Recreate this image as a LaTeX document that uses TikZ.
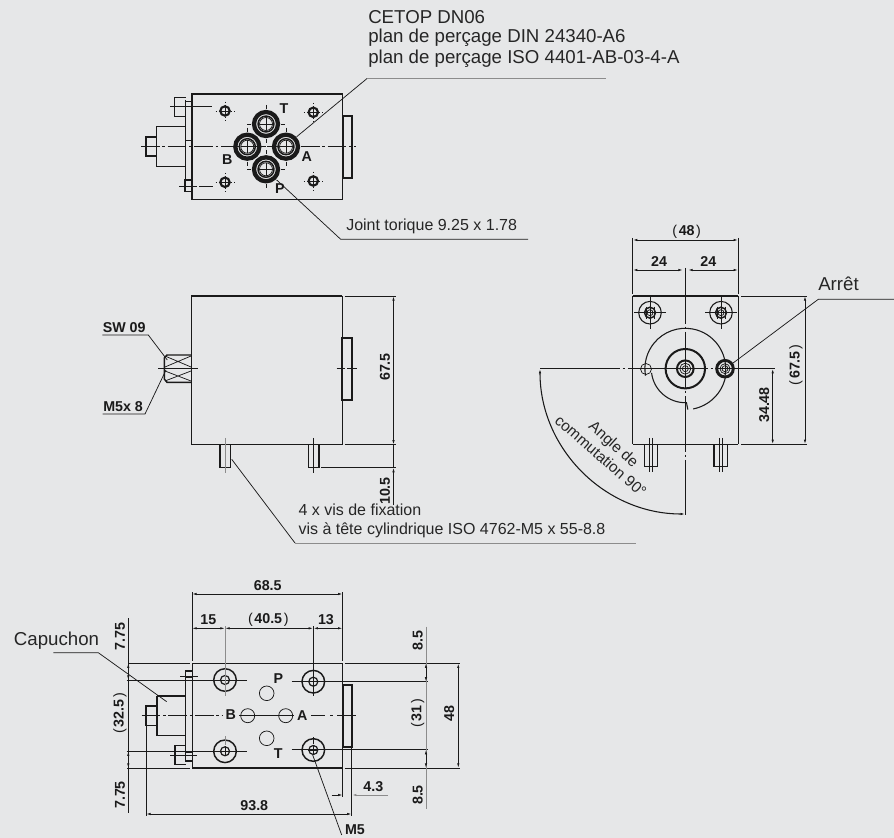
\documentclass[tikz,border=0pt]{standalone}
\usepackage{fontspec}
\setmainfont{Liberation Sans}
\usetikzlibrary{arrows.meta}
\definecolor{bgc}{HTML}{E6E7E8}
\definecolor{ink}{HTML}{1A1A1A}
\tikzset{
  thick line/.style={line width=1.1pt,draw=ink},
  plate line/.style={line width=1.35pt,draw=ink},
  thin line/.style={line width=0.55pt,draw=ink},
  graphic line/.style={line width=0.7pt,draw=black!45},
  center line/.style={line width=0.6pt,draw=ink,dash pattern=on 14pt off 2pt on 2pt off 2pt},
  dim/.style={line width=0.6pt,draw=ink,{Latex[length=3.5pt,width=1.8pt]}-{Latex[length=3.5pt,width=1.8pt]}},
  lead/.style={line width=0.55pt,draw=ink},
  note/.style={inner sep=0pt,anchor=west,font=\fontsize{12pt}{13pt}\selectfont,text=black!85},
  bignote/.style={note,font=\fontsize{14pt}{15pt}\selectfont},
  dimtxt/.style={inner sep=0pt,font=\bfseries\fontsize{10.7pt}{11pt}\selectfont,text=ink},
  port/.style={inner sep=0pt,font=\bfseries\fontsize{10.7pt}{11pt}\selectfont,text=ink}
}
\newcommand{\dimparen}[1]{{\mdseries(}\kern1.2pt #1\kern1.2pt{\mdseries)}}
\newcommand{\xhole}[3]{%
  \draw[line width=1.6pt,draw=ink] (#1,#2) circle (#3);
  \draw[thin line] (#1-#3,#2) -- (#1+#3,#2) (#1,#2-#3) -- (#1,#2+#3);
  \draw[line width=0.3pt,draw=ink,dotted] (#1-2*#3,#2) -- (#1+2*#3,#2) (#1,#2-2*#3) -- (#1,#2+2*#3);
}
\newcommand{\ringport}[2]{%
  \draw[line width=3.2pt,draw=ink] (#1,#2) circle (12);
  \draw[thick line] (#1,#2) circle (8);
  \draw[thin line] (#1,#2) circle (6.5);
  \draw[thin line] (#1-6.5,#2) -- (#1+6.5,#2) (#1,#2-6.5) -- (#1,#2+6.5);
  \draw[thin line] (#1-19,#2) -- (#1-15,#2) (#1+15,#2) -- (#1+19,#2) (#1,#2-19) -- (#1,#2-15) (#1,#2+15) -- (#1,#2+19);
}
\newcommand{\mhole}[2]{%
  \draw[thick line] (#1,#2) circle (11.3);
  \draw[line width=0.9pt,draw=ink] (#1,#2) circle (4.5);
  \draw[thin line] (#1-5,#2) -- (#1+5,#2) (#1,#2-5) -- (#1,#2+5);
}
\begin{document}
\begin{tikzpicture}[x=0.75pt,y=-0.75pt]
\useasboundingbox[fill=bgc] (0,0) rectangle (894,838);

% ---- top view
\draw[thick line] (192,94) rectangle (342.7,199.5);
\draw[plate line] (342.7,115.7) rectangle (351.7,177.7);
\draw[thick line] (185,126.7) -- (156.7,126.7) -- (156.7,166.7) -- (185,166.7);
\draw[thick line] (156.7,137) -- (146,137) -- (146,156) -- (156.7,156);
\draw[thin line] (185,100) -- (185,191.7);
\draw[thin line] (185,140) -- (192,140);
\draw[thick line] (185.7,97.7) -- (174.3,97.7) -- (174.3,116.7) -- (185.7,116.7);
\draw[thin line] (185.7,101.7) -- (192,101.7) (185.7,106) -- (192,106);
\draw[thick line] (185,180) rectangle (192,191.7);
\draw[thin line] (170,106.7) -- (185,106.7) (193,106.7) -- (212,106.7);
\draw[thin line] (179,186) -- (197,186) (199,186) -- (213,186);
\draw[center line] (141,146.7) -- (356,146.7);
\ringport{266}{124}\ringport{247.3}{146.7}\ringport{286}{146.7}\ringport{266}{169.3}
\xhole{225}{111}{4.7}\xhole{313.3}{112.3}{4.7}\xhole{225}{182.3}{4.7}\xhole{313.3}{181}{4.7}
\node[port] (lT) at (284,108.7) {T};
\node[port] (lB) at (227.3,160) {B};
\node[port] (lA) at (306.7,156.7) {A};
\node[port] (lP) at (280,188.7) {P};
\coordinate (c1) at (296.7,136.7);
\coordinate (c2) at (367.3,78.3);
\coordinate (c3) at (606,78.3);
\draw[lead] (c1) -- (c2);
\draw[graphic line] (c2) -- (c3);
\node[bignote] (cetop1) at (368,17) {CETOP DN06};
\node[bignote] (cetop2) at (368,38) {plan de perçage DIN 24340-A6};
\node[bignote] (cetop3) at (368,59) {plan de perçage ISO 4401-AB-03-4-A};
\coordinate (j1) at (276.7,180);
\coordinate (j2) at (340.7,239.3);
\coordinate (j3) at (528,239.3);
\draw[lead] (j1) -- (j2) -- (j3);
\node[note] (joint) at (346,226) {Joint torique 9.25 x 1.78};

% ---- side view
\draw[thick line] (342.3,296) -- (191.7,296) -- (191.7,444.7) -- (342.3,444.7);
\draw[thin line] (342.3,296) -- (342.3,444.7);
\draw[plate line] (342.3,338.3) rectangle (351.7,400);
\draw[thin line] (336.7,368.7) -- (345,368.7) (347,368.7) -- (356.7,368.7);
\draw[thick line] (191.7,355) -- (167,355) -- (164.3,358) -- (164.3,379) -- (167,382.3) -- (191.7,382.3);
\draw[thin line] (165,356) -- (191,367) (165,367) -- (191,356) (165,371) -- (191,381) (165,381) -- (191,371);
\draw[thick line] (158.3,368.7) -- (197.7,368.7);
\coordinate (sw1) at (102.3,335);
\coordinate (sw2) at (148.3,335);
\coordinate (sw3) at (167.3,360);
\draw[lead] (sw1) -- (sw2) -- (sw3);
\node[dimtxt,anchor=south west] (swt) at (102.5,333) {SW 09};
\coordinate (m1) at (102.5,414);
\coordinate (m2) at (145,414);
\coordinate (m3) at (166,370);
\draw[lead] (m1) -- (m2) -- (m3);
\node[dimtxt,anchor=south west] (mt) at (103,412) {M5x 8};
\draw[thick line] (220,444.7) rectangle (230.7,467.7);
\draw[thick line] (308.3,444.7) rectangle (319,467.7);
\draw[graphic line] (225,438) -- (225,472.7);
\draw[thin line] (313.7,438) -- (313.7,472.7);
\coordinate (v1) at (231.7,459.3);
\coordinate (v2) at (295,543);
\coordinate (v3) at (636,543);
\draw[lead] (v1) -- (v2);
\draw[graphic line] (v2) -- (v3);
\node[note] (vis1) at (298.3,510) {4 x vis de fixation};
\node[note] (vis2) at (298.3,530) {vis à tête cylindrique ISO 4762-M5 x 55-8.8};
% dims
\draw[thin line] (344.5,296) -- (396,296) (344.5,444.7) -- (396,444.7);
\draw[thin line] (321,467.7) -- (396,467.7);
\draw[dim] (393.5,296) -- (393.5,444.7);
\draw[thin line] (393.5,444.7) -- (393.5,467.7);
\draw[thin line,-{Latex[length=3.5pt,width=1.8pt]}] (393.5,505) -- (393.5,467.7);
\node[dimtxt,rotate=90] (t675) at (385,367) {67.5};
\node[dimtxt,rotate=90] (t105) at (385,491) {10.5};

% ---- right view
\draw[thick line] (632.7,296) -- (738.3,296) (632.7,444.3) -- (738.3,444.3);
\draw[thin line] (632.7,296) -- (632.7,444.3) (738.3,296) -- (738.3,444.3);
\draw[line width=1pt,draw=ink,dash pattern=on 60pt off 2pt on 2pt off 2pt] (540,368.7) -- (775,368.7);
\draw[line width=0.8pt,draw=ink,dash pattern=on 42pt off 2pt on 2pt off 2pt] (685.3,268) -- (685.3,515);
\draw[thin line] (632.7,238) -- (632.7,294) (738.3,238) -- (738.3,294);
\draw[dim] (632.7,240) -- (738.3,240);
\node[dimtxt] (t48a) at (686.7,232) {\dimparen{48}};
\draw[dim] (632.7,270) -- (683,270);
\draw[dim] (688,270) -- (738.3,270);
\node[dimtxt] (t24a) at (659,261.7) {24};
\node[dimtxt] (t24b) at (708.3,261.7) {24};
\foreach \sx in {650,721}{
  \draw[line width=0.8pt,draw=ink] (\sx,312.7) circle (11.3);
  \draw[thick line] (\sx,312.7) circle (5.5);
  \draw[thin line] (\sx,312.7) circle (3);
  \draw[thin line] (\sx-16,312.7) -- (\sx+16,312.7) (\sx,296.7) -- (\sx,328.7);
  \draw[thin line] (\sx-4,306.7) -- (\sx-4,318.7) (\sx+4,306.7) -- (\sx+4,318.7);
}
\begin{scope}[y=0.75pt]
\draw[line width=0.8pt,draw=ink] (685.3,-368.7) ++(-10:40.4) arc[start angle=-10,end angle=190,radius=40.4];
\draw[line width=0.8pt,draw=ink] (685.3,-368.7) ++(187:34) arc[start angle=187,end angle=272,radius=34] -- ++(281:7) ;
\draw[line width=0.8pt,draw=ink] (685.3,-368.7) ++(281:41) arc[start angle=281,end angle=348,radius=41];
\draw[line width=0.8pt,draw=ink,{Latex[length=3.5pt,width=1.8pt]}-{Latex[length=3.5pt,width=1.8pt]}] (685.3,-368.7) ++(180:145.3) arc[start angle=180,end angle=270,radius=145.3];
\end{scope}
\draw[thin line] (646,369) circle (5.5);
\draw[line width=1.5pt,draw=ink] (685.3,368.7) circle (19.7);
\draw[line width=1.5pt,draw=ink] (685.3,368.7) circle (8.3);
\draw[thin line] (685.3,368.7) circle (5.5);
\draw[thin line] (685.3,368.7) circle (3);
\draw[line width=2.2pt,draw=ink] (725,368.7) circle (8.3);
\draw[thin line] (725,368.7) circle (5);
\draw[thin line] (725,368.7) circle (3);
\draw[thick line] (644.3,444.3) -- (644.3,466.7) -- (657.7,466.7) -- (657.7,444.3);
\draw[thick line] (714,444.3) -- (714,466.7) -- (727.3,466.7) -- (727.3,444.3);
\draw[thin line] (649,438) -- (649,471.7) (652.5,438) -- (652.5,471.7);
\draw[thin line] (719,438) -- (719,471.7) (722,438) -- (722,471.7);
\coordinate (a1) at (732.7,363.3);
\coordinate (a2) at (818.3,299.3);
\coordinate (a3) at (894,299.3);
\draw[lead] (a1) -- (a2) -- (a3);
\node[bignote] (arret) at (818,284) {Arrêt};
\draw[thin line] (741,296) -- (807,296) (741,444.3) -- (807,444.3);
\draw[dim] (805,296) -- (805,444.3);
\draw[dim] (772.7,368.7) -- (772.7,444.3);
\node[dimtxt,rotate=90] (t675b) at (796,365) {\dimparen{67.5}};
\node[dimtxt,rotate=90] (t3448) at (764.3,405) {34.48};
\node[note,anchor=center,rotate=-42,font=\fontsize{11.5pt}{12pt}\selectfont] (ang1) at (613,445) {Angle de};
\node[note,anchor=center,rotate=-41,font=\fontsize{11.5pt}{12pt}\selectfont] (ang2) at (601,456) {commutation 90°};

% ---- bottom view
\draw[thick line] (192,663.3) -- (342.7,663.3) (192,768) -- (342.7,768);
\draw[thin line] (192,663.3) -- (192,768) (342.7,663.3) -- (342.7,768);
\draw[plate line] (342.7,685) rectangle (351.7,746.7);
\draw[thick line] (185,696) -- (157.3,696) -- (157.3,735.7) -- (185,735.7);
\draw[line width=1.5pt,draw=ink] (157.3,696) -- (157.3,735.7);
\draw[thick line] (157.3,706) -- (146,706) -- (146,725.3) -- (157.3,725.3);
\draw[thin line] (185,670) -- (192,670) (185,670) -- (185,761.7) (185,761.7) -- (192,761.7);
\draw[thin line] (185,671.7) rectangle (192,677.3);
\draw[thick line] (185.7,745.7) -- (175,745.7) -- (175,764.3) -- (185.7,764.3);
\draw[thin line] (185.7,752.7) -- (192,752.7) (185.7,760.7) -- (192,760.7);
\draw[thin line] (180,676) -- (197.7,676) (170,755) -- (196.7,755);
\draw[center line] (141.7,715.7) -- (222,715.7);
\draw[thin line] (239,715.7) -- (294,715.7);
\draw[thin line] (311,715.7) -- (325,715.7) (330,715.7) -- (333,715.7) (337,715.7) -- (356,715.7);
\mhole{225}{680}\mhole{313.3}{681.7}\mhole{225}{751.3}\mhole{313.3}{750}
\draw[thin line] (266.7,693.3) circle (7.3);
\draw[thin line] (266.7,738.3) circle (7.3);
\draw[thin line] (247.7,715.7) circle (7);
\draw[thin line] (285.7,715.7) circle (7);
\node[port] (lP2) at (278.3,679) {P};
\node[port] (lT2) at (278.3,753.3) {T};
\node[port,fill=bgc] (lB2) at (230.7,715) {B};
\node[port,fill=bgc] (lA2) at (302.3,715.7) {A};
\draw[thin line] (126.7,680) -- (246.7,680) (126.7,751.3) -- (246.7,751.3);
\draw[thin line] (291.7,681.7) -- (428.3,681.7) (291.7,749.7) -- (428.3,749.7);
\draw[graphic line] (225,626) -- (225,696) (225,736) -- (225,745);
\draw[thin line] (313.3,626) -- (313.3,696) (313.3,737) -- (313.3,744);
% dim rows
\draw[thin line] (192,592) -- (192,661) (342.7,592) -- (342.7,661);
\draw[dim] (192,594) -- (342.7,594);
\node[dimtxt] (t685) at (267.7,585.7) {68.5};
\draw[dim] (192,628.3) -- (225,628.3);
\draw[dim] (225,628.3) -- (313.3,628.3);
\draw[dim] (313.3,628.3) -- (342.7,628.3);
\node[dimtxt] (t15) at (208.3,620) {15};
\node[dimtxt] (t405) at (268.3,620) {\dimparen{40.5}};
\node[dimtxt] (t13) at (326,620) {13};
% left dims
\draw[thin line] (128,663.3) -- (190,663.3) (127,768) -- (190,768);
\draw[thin line] (128.3,618.3) -- (128.3,813.3);
\draw[thin line,{Latex[length=3.5pt,width=1.8pt]}-{Latex[length=3.5pt,width=1.8pt]}] (128.3,663.3) -- (128.3,680);
\draw[thin line,{Latex[length=3.5pt,width=1.8pt]}-{Latex[length=3.5pt,width=1.8pt]}] (128.3,751.3) -- (128.3,768);
\node[dimtxt,rotate=90] (t775a) at (120,636.7) {7.75};
\node[dimtxt,rotate=90] (t325) at (120,713.3) {\dimparen{32.5}};
\node[dimtxt,rotate=90] (t775b) at (120,795) {7.75};
% 93.8
\draw[thin line] (146,725.3) -- (146,816);
\draw[thin line] (351.7,746.7) -- (351.7,816);
\draw[dim] (146,814) -- (351.7,814);
\node[dimtxt] (t938) at (254.3,805.7) {93.8};
% 4.3
\draw[thin line] (342.7,768) -- (342.7,797);
\draw[thin line,-{Latex[length=3.5pt,width=1.8pt]}] (331.7,795) -- (342.7,795);
\draw[graphic line,-{Latex[length=3.5pt,width=1.8pt]}] (388,795) -- (351.7,795);
\node[dimtxt] (t43) at (373.3,786.7) {4.3};
% right dims
\draw[thin line] (344.5,663.3) -- (460,663.3) (344.5,768) -- (460,768);
\draw[graphic line] (426,626.7) -- (426,809);
\draw[thin line,{Latex[length=3.5pt,width=1.8pt]}-{Latex[length=3.5pt,width=1.8pt]}] (426,663.3) -- (426,681.7);
\draw[thin line,{Latex[length=3.5pt,width=1.8pt]}-{Latex[length=3.5pt,width=1.8pt]}] (426,749.7) -- (426,768);
\draw[dim] (458.3,663.3) -- (458.3,768);
\node[dimtxt,rotate=90] (t85a) at (417.7,640.7) {8.5};
\node[dimtxt,rotate=90] (t31) at (417.7,713.3) {\dimparen{31}};
\node[dimtxt,rotate=90] (t85b) at (417.7,795) {8.5};
\node[dimtxt,rotate=90] (t48b) at (449.3,713.3) {48};
% leaders
\coordinate (m5a) at (312.7,755);
\coordinate (m5b) at (341.7,835);
\draw[lead] (m5a) -- (m5b);
\node[dimtxt] (tm5) at (355,830) {M5};
\coordinate (ca) at (53.3,652.7);
\coordinate (cb) at (98.3,652.7);
\coordinate (cc) at (166.7,701.7);
\draw[lead] (ca) -- (cb) -- (cc);
\node[bignote,anchor=center] (tcap) at (56.5,641) {Capuchon};
\end{tikzpicture}
\end{document}
